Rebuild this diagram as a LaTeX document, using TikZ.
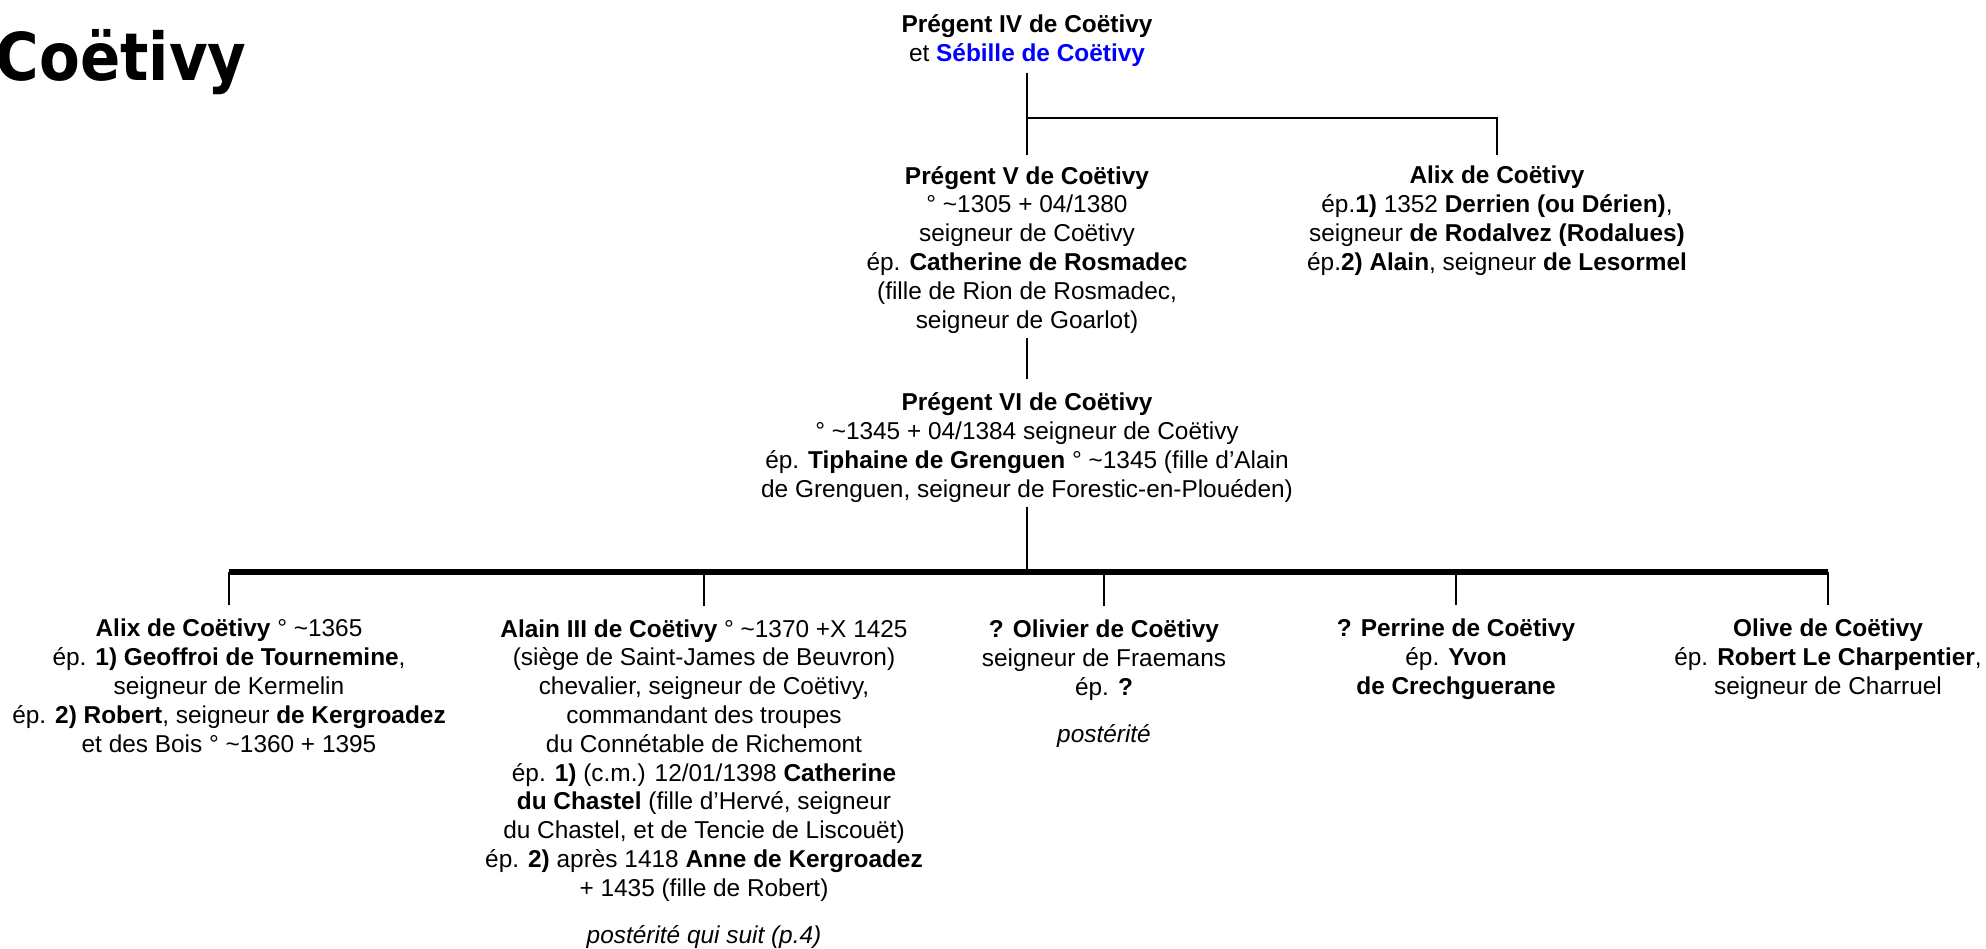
\documentclass[tikz,border=0pt]{standalone}
\usepackage{fontspec}
\setmainfont{Liberation Sans}
\newfontfamily\titlefont{DejaVu Sans}[FakeStretch=0.9]
\newcommand{\vers}{\textasciitilde}
\tikzset{
  person/.style={align=center, inner sep=0pt, font=\fontsize{12.2}{14.4}\selectfont},
  link/.style={line width=1.4pt},
  bar/.style={line width=2.6pt}
}
\begin{document}
\begin{tikzpicture}[x=0.5pt,y=-0.5pt]
    \useasboundingbox (0,0) rectangle (1986,948);
    \node[anchor=base east, inner sep=0pt, font=\titlefont\bfseries\fontsize{33}{33}\selectfont] (titre) at (247,80) {Coëtivy};
    \node[person, anchor=base] (pregent4) at (1027,61) {\textbf{Prégent IV de Coëtivy}\\et \textcolor{blue}{\textbf{Sébille de Coëtivy}}};
    \node[person, anchor=base] (pregent5) at (1027,328) {\textbf{Prégent V de Coëtivy}\\° \vers1305 + 04/1380\\seigneur de Coëtivy\\ép. \textbf{Catherine de Rosmadec}\\(fille de Rion de Rosmadec,\\seigneur de Goarlot)};
    \node[person, anchor=base] (alix1) at (1497,270) {\textbf{Alix de Coëtivy}\\ép.\textbf{1)} 1352 \textbf{Derrien (ou Dérien)},\\seigneur \textbf{de Rodalvez (Rodalues)}\\ép.\textbf{2) Alain}, seigneur \textbf{de Lesormel}};
    \node[person, anchor=base] (pregent6) at (1027,497) {\textbf{Prégent VI de Coëtivy}\\° \vers1345 + 04/1384 seigneur de Coëtivy\\ép. \textbf{Tiphaine de Grenguen} ° \vers1345 (fille d’Alain\\de Grenguen, seigneur de Forestic-en-Plouéden)};
    \node[person, anchor=base] (alix2) at (229,752) {\textbf{Alix de Coëtivy} ° \vers1365\\ép. \textbf{1) Geoffroi de Tournemine},\\seigneur de Kermelin\\ép. \textbf{2) Robert}, seigneur \textbf{de Kergroadez}\\et des Bois ° \vers1360 + 1395};
    \node[person, anchor=base] (alain3) at (704,943) {\textbf{Alain III de Coëtivy} ° \vers1370 +X 1425\\(siège de Saint-James de Beuvron)\\chevalier, seigneur de Coëtivy,\\commandant des troupes\\du Connétable de Richemont\\ép. \textbf{1)} (c.m.) 12/01/1398 \textbf{Catherine}\\\textbf{du Chastel} (fille d’Hervé, seigneur\\du Chastel, et de Tencie de Liscouët)\\ép. \textbf{2)} après 1418 \textbf{Anne de Kergroadez}\\+ 1435 (fille de Robert)\\[9pt]\textit{postérité qui suit (p.4)}};
    \node[person, anchor=base] (olivier) at (1104,742) {\textbf{? Olivier de Coëtivy}\\seigneur de Fraemans\\ép. \textbf{?}\\[9pt]\textit{postérité}};
    \node[person, anchor=base] (perrine) at (1456,694) {\textbf{? Perrine de Coëtivy}\\ép. \textbf{Yvon}\\\textbf{de Crechguerane}};
    \node[person, anchor=base] (olive) at (1828,694) {\textbf{Olive de Coëtivy}\\ép. \textbf{Robert Le Charpentier},\\seigneur de Charruel};
    \coordinate (haut) at (1027,118);
    \coordinate (bas) at (1027,572);
    \draw[link, shorten <=3.5pt] (pregent4.south) -- (haut);
    \draw[link, shorten >=5.3pt] (haut) -- (pregent5.north);
    \draw[link, shorten >=5.3pt] (haut) -| (alix1.north);
    \draw[link, shorten <=2.5pt, shorten >=6.5pt] (pregent5.south) -- (pregent6.north);
    \draw[link, shorten <=2.5pt] (pregent6.south) -- (bas);
    \draw[bar] (alix2 |- bas) -- (olive |- bas);
    \foreach \enfant in {alix2, alain3, olivier, perrine, olive}
        \draw[link, shorten >=6.7pt] (\enfant |- bas) -- (\enfant.north);
\end{tikzpicture}
\end{document}
